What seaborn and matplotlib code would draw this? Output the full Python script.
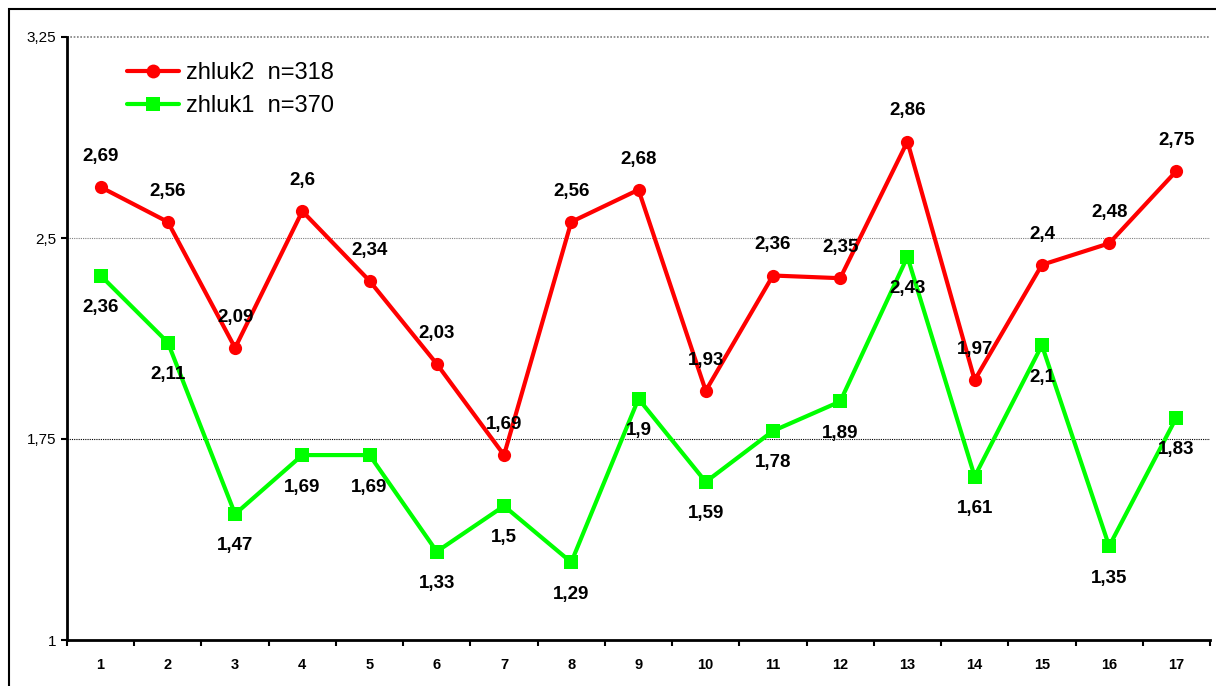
import matplotlib
matplotlib.use("Agg")
import matplotlib.pyplot as plt
import seaborn as sns
import pandas as pd
from matplotlib.patches import Rectangle

categories = list(range(1, 18))
zhluk2 = [2.69, 2.56, 2.09, 2.6, 2.34, 2.03, 1.69, 2.56, 2.68, 1.93, 2.36, 2.35, 2.86, 1.97, 2.4, 2.48, 2.75]
zhluk1 = [2.36, 2.11, 1.47, 1.69, 1.69, 1.33, 1.5, 1.29, 1.9, 1.59, 1.78, 1.89, 2.43, 1.61, 2.1, 1.35, 1.83]
yticks = [1, 1.75, 2.5, 3.25]
ytick_labels = ["1", "1,75", "2,5", "3,25"]

sns.set_style("white")
plt.rcParams['font.family'] = ['Liberation Sans', 'DejaVu Sans']
plt.rcParams['text.color'] = 'black'
plt.rcParams['xtick.color'] = 'black'
plt.rcParams['ytick.color'] = 'black'

fig = plt.figure(figsize=(12.16, 6.86), dpi=100)
ax = fig.add_axes([67/1216, 46/686, (1210-67)/1216, (640-37)/686])

df = pd.DataFrame({"x": categories * 2,
                   "y": zhluk2 + zhluk1,
                   "s": ["zhluk2  n=318"] * 17 + ["zhluk1  n=370"] * 17})
sns.lineplot(data=df, x="x", y="y", hue="s", style="s",
             palette={"zhluk2  n=318": "#ff0000", "zhluk1  n=370": "#00ff00"},
             markers={"zhluk2  n=318": "o", "zhluk1  n=370": "s"},
             dashes=False, linewidth=3, markersize=9.5, markeredgewidth=0,
             ax=ax, legend=True)

for x, v in zip(categories, zhluk2):
    ax.annotate(f"{v:g}".replace(".", ","), (x, v), xytext=(0, 22), textcoords="offset points",
                ha="center", va="center", fontsize=13.5, fontweight="bold", color="black")
for x, v in zip(categories, zhluk1):
    ax.annotate(f"{v:g}".replace(".", ","), (x, v), xytext=(0, -23), textcoords="offset points",
                ha="center", va="center", fontsize=13.5, fontweight="bold", color="black")

ax.set_xlim(0.5, 17.5)
ax.set_ylim(1, 3.25)
ax.set_yticks(yticks)
ax.set_yticklabels(ytick_labels, fontsize=11)
ax.set_xticks([c - 0.5 for c in categories] + [17.5])
ax.set_xticklabels([])
ax.set_xticks(categories, minor=True)
ax.set_xticklabels([str(c) for c in categories], minor=True, fontsize=10.5, fontweight="bold")
ax.tick_params(axis="x", which="minor", bottom=False, length=0, pad=13)
ax.tick_params(axis="both", which="major", bottom=True, left=True, length=4, width=1.5,
               color="black", direction="out")
ax.tick_params(axis="y", which="major", pad=4)
ax.set_xlabel("")
ax.set_ylabel("")

ax.axhline(1.75, color="black", linestyle=(0, (1, 1)), linewidth=0.8, zorder=0)
ax.axhline(2.5, color="#808080", linestyle=(0, (1, 1)), linewidth=0.8, zorder=0)
ax.axhline(3.25, color="#808080", linestyle=(0, (1, 1)), linewidth=1.2, zorder=0, clip_on=False)

for side in ["top", "right"]:
    ax.spines[side].set_visible(False)
ax.spines["left"].set_linewidth(2)
ax.spines["bottom"].set_linewidth(2)
ax.spines["left"].set_color("black")
ax.spines["bottom"].set_color("black")

leg = ax.legend(loc="upper left", bbox_to_anchor=(0.034, 0.993), frameon=False,
                fontsize=17, handlelength=2.2, handletextpad=0.3, labelspacing=0.45,
                markerscale=1.05)
for t in leg.get_texts():
    t.set_color("black")

fig.patches.append(Rectangle((9/1216, -0.05), 1.2, 1 - 9/686 + 0.05, transform=fig.transFigure,
                             fill=False, edgecolor="black", linewidth=1.5))

fig.savefig("out.png", dpi=100)
